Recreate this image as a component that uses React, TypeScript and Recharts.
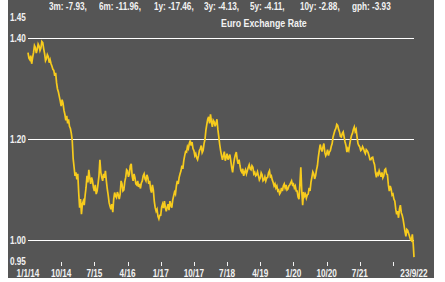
import { LineChart, Line, XAxis, YAxis, ReferenceLine } from 'recharts';

// weekly-ish readings, one every quarter month from 1 Jan 2014
const rates: number[] = [
    // 2014
    1.372, 1.361, 1.358, 1.366, 1.350, 1.362, 1.372, 1.386, 1.382, 1.371, 1.378, 1.389,
    1.385, 1.376, 1.381, 1.394, 1.392, 1.380, 1.370, 1.356, 1.360, 1.368, 1.364, 1.352,
    1.358, 1.350, 1.345, 1.339, 1.337, 1.326, 1.332, 1.312, 1.300, 1.294, 1.285, 1.276,
    1.266, 1.279, 1.272, 1.258, 1.250, 1.238, 1.247, 1.232, 1.240, 1.226, 1.222, 1.212,
    // 2015
    1.198, 1.162, 1.145, 1.128, 1.135, 1.121, 1.132, 1.095, 1.065, 1.082, 1.052, 1.072,
    1.078, 1.070, 1.090, 1.105, 1.128, 1.115, 1.140, 1.124, 1.112, 1.125, 1.118, 1.105,
    1.098, 1.110, 1.092, 1.098, 1.112, 1.128, 1.160, 1.135, 1.125, 1.118, 1.132, 1.124,
    1.138, 1.118, 1.102, 1.090, 1.075, 1.068, 1.062, 1.072, 1.056, 1.082, 1.095, 1.088,
    // 2016
    1.085, 1.096, 1.090, 1.082, 1.092, 1.118, 1.112, 1.098, 1.100, 1.116, 1.125, 1.140,
    1.138, 1.126, 1.132, 1.148, 1.152, 1.128, 1.118, 1.132, 1.125, 1.112, 1.110, 1.118,
    1.106, 1.112, 1.103, 1.114, 1.118, 1.128, 1.132, 1.122, 1.118, 1.130, 1.125, 1.112,
    1.118, 1.102, 1.095, 1.110, 1.100, 1.078, 1.065, 1.058, 1.062, 1.048, 1.043, 1.050,
    // 2017
    1.050, 1.066, 1.072, 1.064, 1.078, 1.066, 1.058, 1.066, 1.072, 1.060, 1.078, 1.070,
    1.065, 1.080, 1.088, 1.096, 1.092, 1.108, 1.118, 1.112, 1.125, 1.132, 1.138, 1.148,
    1.142, 1.158, 1.168, 1.176, 1.175, 1.186, 1.182, 1.192, 1.198, 1.188, 1.195, 1.182,
    1.178, 1.168, 1.172, 1.164, 1.160, 1.168, 1.178, 1.182, 1.188, 1.174, 1.178, 1.192,
    // 2018
    1.200, 1.218, 1.230, 1.240, 1.245, 1.232, 1.250, 1.236, 1.225, 1.238, 1.235, 1.226,
    1.232, 1.240, 1.220, 1.205, 1.190, 1.178, 1.168, 1.160, 1.168, 1.176, 1.158, 1.165,
    1.172, 1.160, 1.165, 1.170, 1.158, 1.145, 1.135, 1.150, 1.162, 1.170, 1.175, 1.160,
    1.152, 1.160, 1.148, 1.138, 1.135, 1.142, 1.128, 1.135, 1.140, 1.132, 1.138, 1.145,
    // 2019
    1.150, 1.142, 1.140, 1.148, 1.145, 1.132, 1.135, 1.128, 1.130, 1.136, 1.128, 1.120,
    1.124, 1.134, 1.130, 1.118, 1.120, 1.126, 1.118, 1.124, 1.125, 1.134, 1.138, 1.126,
    1.128, 1.120, 1.115, 1.108, 1.112, 1.104, 1.108, 1.098, 1.100, 1.092, 1.095, 1.104,
    1.098, 1.108, 1.112, 1.104, 1.110, 1.100, 1.102, 1.108, 1.110, 1.114, 1.118, 1.110,
    // 2020
    1.112, 1.104, 1.108, 1.098, 1.098, 1.086, 1.082, 1.112, 1.145, 1.098, 1.070, 1.096,
    1.088, 1.092, 1.084, 1.090, 1.092, 1.104, 1.098, 1.115, 1.125, 1.136, 1.132, 1.122,
    1.128, 1.140, 1.148, 1.165, 1.178, 1.190, 1.182, 1.176, 1.185, 1.192, 1.175, 1.168,
    1.172, 1.180, 1.168, 1.175, 1.178, 1.186, 1.192, 1.205, 1.212, 1.218, 1.222, 1.230,
    // 2021
    1.228, 1.220, 1.215, 1.206, 1.205, 1.212, 1.215, 1.205, 1.195, 1.188, 1.175, 1.182,
    1.178, 1.190, 1.200, 1.208, 1.212, 1.220, 1.225, 1.216, 1.220, 1.205, 1.192, 1.188,
    1.185, 1.178, 1.180, 1.186, 1.182, 1.176, 1.172, 1.180, 1.178, 1.174, 1.168, 1.160,
    1.160, 1.164, 1.165, 1.156, 1.150, 1.135, 1.125, 1.133, 1.130, 1.138, 1.132, 1.126,
    // 2022
    1.135, 1.124, 1.128, 1.140, 1.142, 1.132, 1.130, 1.110, 1.098, 1.108, 1.102, 1.090,
    1.092, 1.082, 1.078, 1.062, 1.052, 1.058, 1.045, 1.062, 1.070, 1.055, 1.050, 1.042,
    1.030, 1.018, 1.008, 1.022, 1.020, 1.014, 1.008, 1.002, 1.000, 1.012, 0.992,
];
const lastMonth = 104.7; // 23/9/22
const lastRate = 0.967;

const tickMonths = [0, 9, 18, 27, 36, 45, 54, 63, 72, 81, 90, 99, 104.7];
const tickLabels = ['1/1/14', '10/14', '7/15', '4/16', '1/17', '10/17', '7/18', '4/19', '1/20', '10/20', '7/21', '', '23/9/22'];
const yTicks = [0.95, 1.0, 1.2, 1.4, 1.45];
const gridLevels = [1.0, 1.2, 1.4];

const stats = ['3m: -7.93,', '6m: -11.96,', '1y: -17.46,', '3y: -4.13,', '5y: -4.11,', '10y: -2.88,', 'gph: -3.93'];
const statsLeft = [41, 91, 146, 196, 242, 292, 344]; // where each item starts in the panel
const title = 'Euro Exchange Rate';

const data = [
    ...rates.map((r, i) => ({ t: i * 0.25, rate: r })),
    { t: lastMonth, rate: lastRate },
];

const FONT = '"Liberation Sans", Arial, sans-serif';
const TXT = '#f2f2f2';
const SQUEEZE = 0.82;

const XTick = ({ x, payload }: { x?: number; payload?: { value: number } }) => {
    const idx = tickMonths.indexOf(payload?.value ?? -1);
    const label = tickLabels[idx] ?? '';
    const first = idx === 0;
    const last = idx === tickMonths.length - 1;
    const px = Math.round(x ?? 0) + 0.5;
    return (
        <g>
            {!first && !last && <line x1={px} x2={px} y1={262} y2={266} stroke={TXT} strokeWidth={1} />}
            <text
                transform={`translate(${x},277) scale(${SQUEEZE},1)`}
                textAnchor="middle" fill={TXT} fontSize={10} fontWeight="bold" fontFamily={FONT}
            >
                {label}
            </text>
        </g>
    );
};

const YTick = ({ y, payload }: { y?: number; payload?: { value: number } }) => {
    const v = payload?.value ?? 0;
    let dy = 3.5;
    if (v === 1.45) dy = 8;
    if (v === 0.95) dy = -1;
    return (
        <text
            transform={`translate(2,${(y ?? 0) + dy}) scale(${SQUEEZE},1)`}
            textAnchor="start" fill={TXT} fontSize={10} fontWeight="bold" fontFamily={FONT}
        >
            {v.toFixed(2)}
        </text>
    );
};

export default function App() {
    return (
        <div style={{ position: 'fixed', left: 0, top: 0, width: 445, height: 282, background: '#ffffff' }}>
            <div style={{ position: 'absolute', left: 8, top: 0, width: 426, height: 278, background: '#555555' }}>
                <LineChart width={426} height={278} data={data} margin={{ top: 13.25, bottom: 11.25, left: 19, right: 20 }}>
                    <XAxis
                        type="number"
                        dataKey="t"
                        domain={[0, lastMonth]}
                        ticks={tickMonths}
                        height={1}
                        axisLine={false}
                        tickLine={false}
                        interval={0}
                        tick={<XTick />}
                    />
                    <YAxis
                        type="number"
                        domain={[0.95, 1.45]}
                        ticks={yTicks}
                        width={1}
                        axisLine={false}
                        tickLine={false}
                        interval={0}
                        tick={<YTick />}
                    />
                    {gridLevels.map((g) => (
                        <ReferenceLine key={g} y={g} stroke="#ffffff" strokeWidth={1} />
                    ))}
                    <Line
                        type="linear"
                        dataKey="rate"
                        stroke="#f7cb1d"
                        strokeWidth={1.7}
                        dot={false}
                        isAnimationActive={false}
                    />
                </LineChart>
                {stats.map((s, i) => (
                    <div
                        key={s}
                        style={{
                            position: 'absolute', left: statsLeft[i], top: 1, whiteSpace: 'nowrap',
                            color: TXT, fontFamily: FONT, fontWeight: 'bold', fontSize: 10, lineHeight: '12px',
                            transform: `scaleX(${SQUEEZE})`, transformOrigin: 'left center',
                        }}
                    >
                        {s}
                    </div>
                ))}
                <div
                    style={{
                        position: 'absolute', left: 205, top: 17, width: 100, textAlign: 'center', whiteSpace: 'nowrap',
                        color: TXT, fontFamily: FONT, fontWeight: 'bold', fontSize: 10.5, lineHeight: '12px',
                        transform: 'scaleX(0.84)', transformOrigin: 'center center',
                    }}
                >
                    {title}
                </div>
            </div>
        </div>
    );
}
